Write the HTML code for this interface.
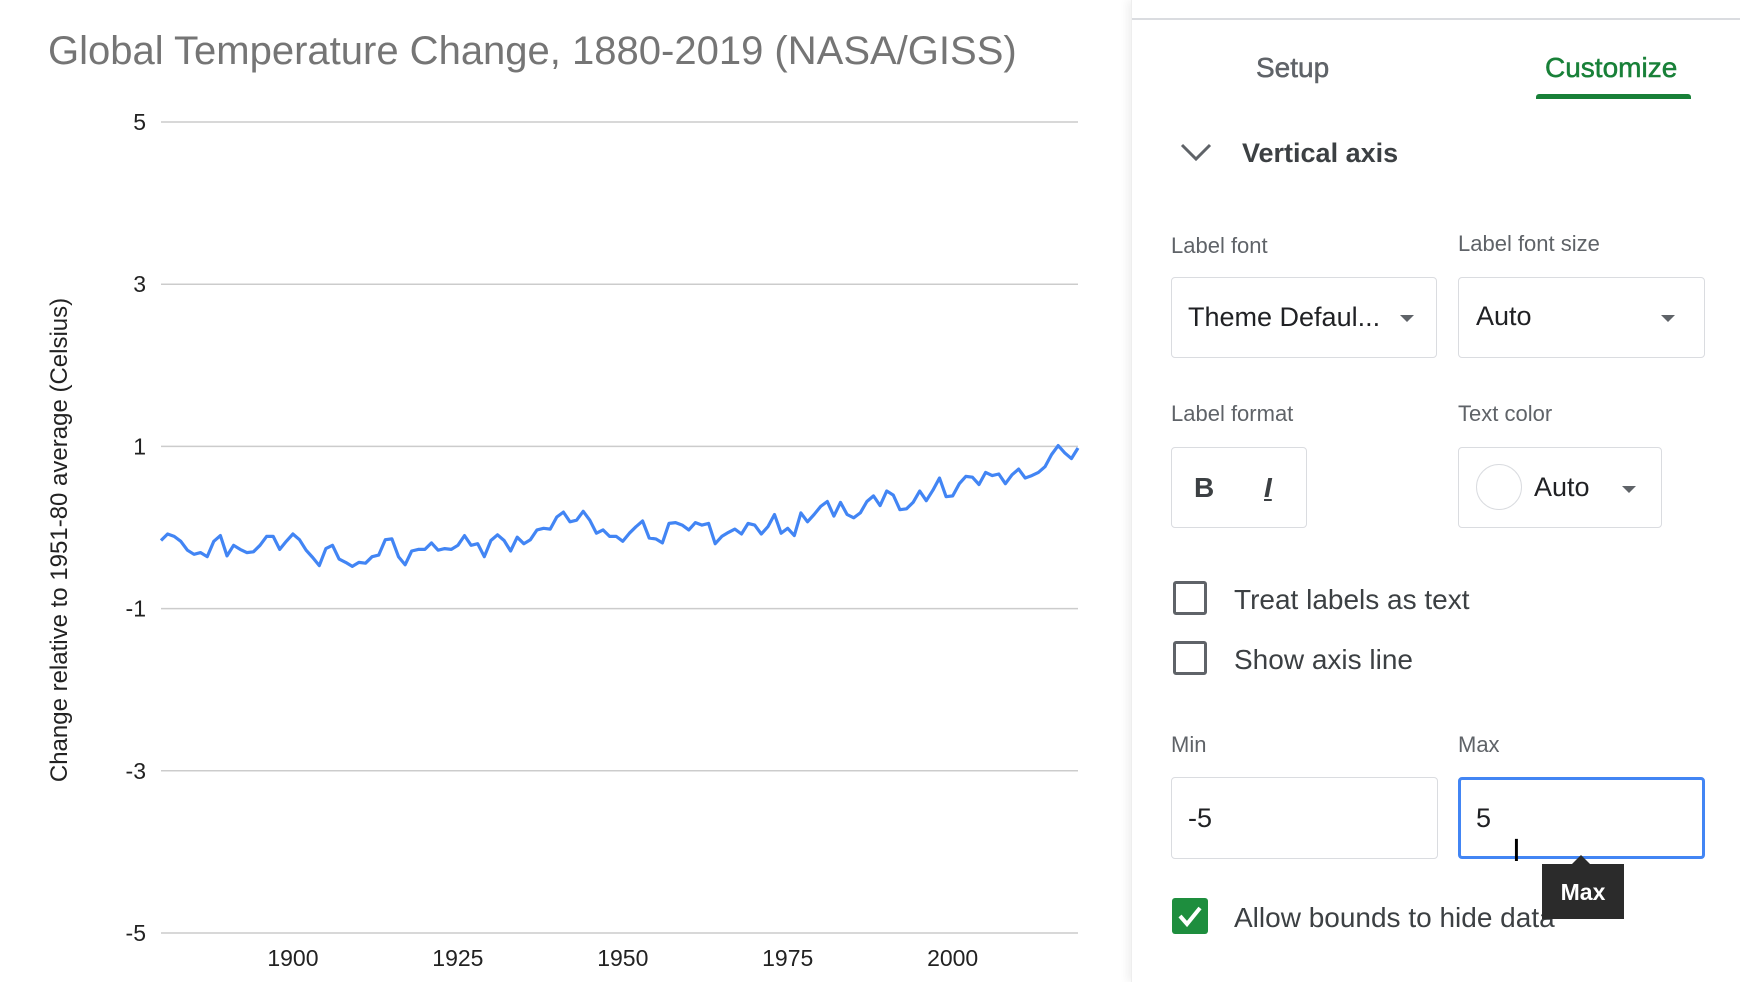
<!DOCTYPE html>
<html><head><meta charset="utf-8">
<style>
body{margin:0;width:1740px;height:982px;overflow:hidden;background:#fff;font-family:"Liberation Sans",sans-serif;position:relative}
.a{position:absolute;white-space:nowrap}
.lbl{font-size:22px;color:#5f6368}
.box{position:absolute;border:1.5px solid #dadce0;border-radius:4px;box-sizing:border-box;background:#fff}
.txt{font-size:27px;color:#202124}
.caret{position:absolute;width:0;height:0;border-left:7px solid transparent;border-right:7px solid transparent;border-top:7px solid #5f6368}
.cb{position:absolute;width:34px;height:34px;border:3px solid #5f6368;border-radius:3px;box-sizing:border-box}
.opt{font-size:28px;color:#3c4043}
</style></head><body>
<svg id="chart" width="1130" height="982" style="position:absolute;left:0;top:0" xmlns="http://www.w3.org/2000/svg">
<text x="48" y="64" font-family="Liberation Sans, sans-serif" font-size="40" fill="#757575">Global Temperature Change, 1880-2019 (NASA/GISS)</text>
<text transform="translate(67,540) rotate(-90)" text-anchor="middle" font-family="Liberation Sans, sans-serif" font-size="24" fill="#222">Change relative to 1951-80 average (Celsius)</text>
<g id="grid"></g><g id="yt"></g><g id="xt"></g><g id="ser"></g>
</svg>
<script>
const years=[];for(let y=1880;y<=2019;y++)years.push(y);
const temps=[-0.16,-0.08,-0.11,-0.17,-0.28,-0.33,-0.31,-0.36,-0.17,-0.10,-0.35,-0.22,-0.27,-0.31,-0.30,-0.22,-0.11,-0.11,-0.27,-0.17,-0.08,-0.15,-0.28,-0.37,-0.47,-0.26,-0.22,-0.39,-0.43,-0.48,-0.43,-0.44,-0.36,-0.34,-0.15,-0.14,-0.36,-0.46,-0.29,-0.27,-0.27,-0.19,-0.28,-0.26,-0.27,-0.22,-0.10,-0.22,-0.20,-0.36,-0.16,-0.09,-0.16,-0.29,-0.12,-0.20,-0.15,-0.03,-0.01,-0.02,0.13,0.19,0.07,0.09,0.20,0.09,-0.07,-0.03,-0.11,-0.11,-0.17,-0.07,0.01,0.08,-0.13,-0.14,-0.19,0.05,0.06,0.03,-0.03,0.06,0.03,0.05,-0.20,-0.11,-0.06,-0.02,-0.08,0.05,0.03,-0.08,0.01,0.16,-0.07,-0.01,-0.10,0.18,0.07,0.16,0.26,0.32,0.14,0.31,0.16,0.12,0.18,0.32,0.39,0.27,0.45,0.40,0.22,0.23,0.31,0.45,0.33,0.46,0.61,0.38,0.39,0.54,0.63,0.62,0.53,0.68,0.64,0.66,0.54,0.65,0.72,0.61,0.64,0.68,0.75,0.90,1.01,0.92,0.85,0.98];
const yTicks=[5,3,1,-1,-3,-5];
const xTicks=[1900,1925,1950,1975,2000];
const NS="http://www.w3.org/2000/svg";
const X0=161,X1=1078,Y0=122,Y1=933;
const xs=v=>X0+(v-1880)/(2019-1880)*(X1-X0);
const ys=v=>Y1-(v+5)/10*(Y1-Y0);
function mk(t,p,a){const e=document.createElementNS(NS,t);for(const k in a)e.setAttribute(k,a[k]);p.appendChild(e);return e;}
const g=document.getElementById('grid'),yt=document.getElementById('yt'),xt=document.getElementById('xt'),ser=document.getElementById('ser');
yTicks.forEach(v=>{
 const l=mk('line',g,{x1:X0,x2:X1,y1:ys(v),y2:ys(v),stroke:'#cccccc','stroke-width':1.5});
 
 
 const t=mk('text',yt,{x:146,y:ys(v)+8,'text-anchor':'end','font-size':23,'font-family':'Liberation Sans, sans-serif',fill:'#222'});
 t.textContent=v;
 
 
});
xTicks.forEach(v=>{
 const t=mk('text',xt,{x:xs(v),y:966,'text-anchor':'middle','font-size':23,'font-family':'Liberation Sans, sans-serif',fill:'#222'});
 t.textContent=v;
 
 
});
const pl=mk('polyline',ser,{points:years.map((y,i)=>xs(y).toFixed(1)+','+ys(temps[i]).toFixed(1)).join(' '),fill:'none',stroke:'#4285f4','stroke-width':3.2,'stroke-linejoin':'round'});


</script>

<div style="position:absolute;left:1131px;top:0;width:609px;height:982px;background:#fff;box-shadow:-4px 0 8px rgba(0,0,0,0.06);border-left:1px solid #eee">
<div style="position:absolute;left:0;right:0;top:18px;height:2px;background:#dadce0"></div>
</div>
<div class="a" style="left:1256px;top:52px;font-size:28px;color:#5f6368;-webkit-text-stroke:0.5px #5f6368">Setup</div>
<div class="a" style="left:1545px;top:52px;font-size:28px;color:#188038;-webkit-text-stroke:0.5px #188038">Customize</div>
<div style="position:absolute;left:1536px;top:94px;width:155px;height:5px;background:#188038;border-radius:3px 3px 0 0"></div>
<svg class="a" style="left:1180px;top:143px" width="32" height="20"><polyline points="2,2 16,16 30,2" fill="none" stroke="#5f6368" stroke-width="3"/></svg>
<div class="a" style="left:1242px;top:138px;font-size:27px;color:#3c4043;font-weight:bold">Vertical axis</div>

<div class="a lbl" style="left:1171px;top:233px">Label font</div>
<div class="a lbl" style="left:1458px;top:231px">Label font size</div>
<div class="box" style="left:1171px;top:277px;width:266px;height:81px">
 <div class="a txt" style="left:16px;top:24px">Theme Defaul...</div><div class="caret" style="left:228px;top:37px"></div></div>
<div class="box" style="left:1458px;top:277px;width:247px;height:81px">
 <div class="a txt" style="left:17px;top:23px">Auto</div><div class="caret" style="left:202px;top:37px"></div></div>

<div class="a lbl" style="left:1171px;top:401px">Label format</div>
<div class="a lbl" style="left:1458px;top:401px">Text color</div>
<div class="box" style="left:1171px;top:447px;width:136px;height:81px">
 <div class="a" style="left:22px;top:24px;font-size:28px;font-weight:bold;color:#3c4043">B</div>
 <div class="a" style="left:92px;top:24px;font-size:28px;font-style:italic;font-weight:bold;color:#3c4043;text-decoration:underline">I</div></div>
<div class="box" style="left:1458px;top:447px;width:204px;height:81px">
 <div style="position:absolute;left:17px;top:16px;width:44px;height:44px;border:1.5px solid #dadce0;border-radius:50%"></div>
 <div class="a txt" style="left:75px;top:24px">Auto</div><div class="caret" style="left:163px;top:38px"></div></div>

<div class="cb" style="left:1173px;top:581px"></div>
<div class="a opt" style="left:1234px;top:584px">Treat labels as text</div>
<div class="cb" style="left:1173px;top:641px"></div>
<div class="a opt" style="left:1234px;top:644px">Show axis line</div>

<div class="a lbl" style="left:1171px;top:732px">Min</div>
<div class="a lbl" style="left:1458px;top:732px">Max</div>
<div class="box" style="left:1171px;top:777px;width:267px;height:82px">
 <div class="a txt" style="left:16px;top:25px">-5</div></div>
<div class="box" style="left:1458px;top:777px;width:247px;height:82px;border:3px solid #4285f4">
 <div class="a txt" style="left:15px;top:23px">5</div></div>
<div class="a" style="left:1512px;top:834px;font-size:30px;color:#000;font-family:'DejaVu Sans',sans-serif">I</div>

<div style="position:absolute;left:1172px;top:898px;width:36px;height:36px;background:#1e8e3e;border-radius:3px">
<svg width="36" height="36"><polyline points="8,18 15,26 28,10" fill="none" stroke="#fff" stroke-width="4"/></svg></div>
<div class="a opt" style="left:1234px;top:902px">Allow bounds to hide data</div>

<div style="position:absolute;left:1542px;top:864px;width:82px;height:55px;background:#2b2b2b">
 <div style="position:absolute;left:30px;top:-9px;width:0;height:0;border-left:9px solid transparent;border-right:9px solid transparent;border-bottom:9px solid #2b2b2b"></div>
 <div class="a" style="left:0;width:82px;text-align:center;top:15px;font-size:23px;font-weight:bold;color:#fff">Max</div></div>
</body></html>
